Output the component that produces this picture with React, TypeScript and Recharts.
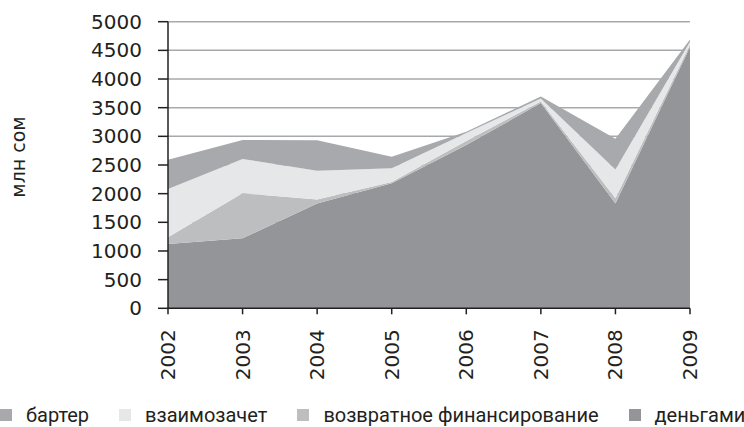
import React from "react";
import { AreaChart, Area, XAxis, YAxis, CartesianGrid } from "recharts";

const years = ["2002", "2003", "2004", "2005", "2006", "2007", "2008", "2009"];

// млн сом, stacked bottom to top
const dengami = [1120, 1220, 1830, 2180, 2850, 3580, 1830, 4560];
const vozvratnoe = [120, 785, 70, 25, 70, 30, 90, 40];
const vzaimozachet = [840, 600, 500, 240, 140, 50, 500, 50];
const barter = [510, 330, 530, 200, 20, 35, 540, 40];

const yTicks = [0, 500, 1000, 1500, 2000, 2500, 3000, 3500, 4000, 4500, 5000];

const series = [
  { key: "dengami", name: "деньгами", color: "#939598", values: dengami },
  { key: "vozvratnoe", name: "возвратное финансирование", color: "#bcbec0", values: vozvratnoe },
  { key: "vzaimozachet", name: "взаимозачет", color: "#e6e7e8", values: vzaimozachet },
  { key: "barter", name: "бартер", color: "#a7a9ac", values: barter },
];

const data = years.map((year, i) => {
  const row: Record<string, string | number> = { year };
  series.forEach((s) => {
    row[s.key] = s.values[i];
  });
  return row;
});

const ink = "#231f20";
const axisFont = "'DejaVu Sans', sans-serif";

const YearTick = (props: any) => {
  const { x, y, payload } = props;
  return (
    <text
      x={x}
      y={y}
      transform={`rotate(-90, ${x}, ${y})`}
      textAnchor="end"
      dominantBaseline="central"
      fill={ink}
      fontSize={20}
      fontFamily={axisFont}
    >
      {payload.value}
    </text>
  );
};

const UnitLabel = () => (
  <text
    x={17.5}
    y={157}
    transform="rotate(-90, 17.5, 157)"
    textAnchor="middle"
    dominantBaseline="central"
    fill={ink}
    fontSize={19}
    fontFamily={axisFont}
  >
    млн сом
  </text>
);

export default function App() {
  const legendItems = [...series].reverse();
  return (
    <div
      style={{
        position: "absolute",
        left: 0,
        top: 0,
        width: 744,
        height: 427,
        background: "#fff",
        overflow: "hidden",
      }}
    >
      <AreaChart
        width={744}
        height={427}
        data={data}
        margin={{ top: 21.7, right: 54, left: 0, bottom: 0 }}
      >
        <CartesianGrid vertical={false} stroke="#a7a9ac" strokeWidth={1.5} />
        <XAxis
          dataKey="year"
          height={118.7}
          interval={0}
          axisLine={{ stroke: ink, strokeWidth: 1.5 }}
          tickLine={{ stroke: ink, strokeWidth: 1.5 }}
          tickSize={6}
          tickMargin={15}
          tick={<YearTick />}
        />
        <YAxis
          width={168}
          domain={[0, 5000]}
          ticks={yTicks}
          interval={0}
          axisLine={{ stroke: ink, strokeWidth: 1.5 }}
          tickLine={{ stroke: ink, strokeWidth: 1.5 }}
          tickSize={10}
          tickMargin={16}
          tick={{ fill: ink, fontSize: 20, fontFamily: axisFont }}
          label={<UnitLabel />}
        />
        {series.map((s) => (
          <Area
            key={s.key}
            type="linear"
            dataKey={s.key}
            name={s.name}
            stackId="1"
            stroke="none"
            fill={s.color}
            fillOpacity={1}
            isAnimationActive={false}
            dot={false}
            activeDot={false}
          />
        ))}
      </AreaChart>
      <div
        style={{
          position: "absolute",
          left: 0,
          top: 404,
          height: 22,
          display: "flex",
          alignItems: "center",
          gap: 30,
          fontFamily: "Roboto, sans-serif",
          fontSize: 20,
          lineHeight: "22px",
          color: ink,
          whiteSpace: "nowrap",
        }}
      >
        {legendItems.map((s) => (
          <div key={s.key} style={{ display: "flex", alignItems: "center", gap: 14 }}>
            <span style={{ width: 12, height: 12, background: s.color, display: "inline-block" }} />
            <span>{s.name}</span>
          </div>
        ))}
      </div>
    </div>
  );
}
